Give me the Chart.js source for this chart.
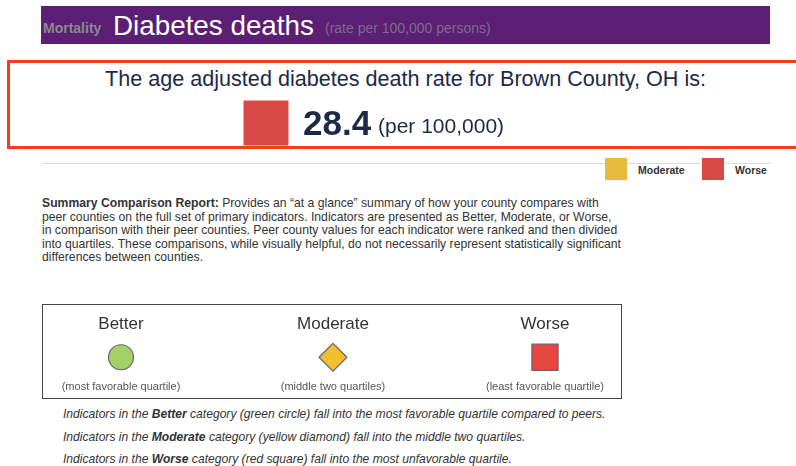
<!DOCTYPE html>
<html>
<head>
<meta charset="utf-8">
<script src="https://cdn.jsdelivr.net/npm/chart.js@4/dist/chart.umd.min.js"></script>
<style>
  body { margin:0; width:796px; height:466px; background:#fff; font-family:"Liberation Sans", Arial, sans-serif; position:relative; overflow:hidden; }
  .abs { position:absolute; }
  #header { left:41px; top:6px; width:729px; height:38px; background:#5c1f75; white-space:nowrap; }
  #header .k { color:#8a8a8a; font-size:14px; font-weight:bold; position:absolute; left:2px; top:14px; }
  #header .t { color:#fff; font-size:27.8px; position:absolute; left:72px; top:4px; }
  #header .s { color:#7f6d8c; font-size:14px; position:absolute; left:284px; top:14px; }
  #rateBox { left:7px; top:60px; width:800px; height:83px; border:3px solid #ef3f1f; border-right:none; }
  #rateTitle { left:0; width:811px; top:66px; text-align:center; font-size:21.6px; color:#1c2a48; white-space:nowrap; }
  #rateVal { left:303px; top:103px; font-size:35px; font-weight:bold; color:#1c2a48; }
  #rateUnit { left:378px; top:114px; font-size:21px; color:#1c2a48; }
  #rule { left:42px; top:163px; width:728px; height:1px; background:#dcdcdc; }
  .lgBox { width:22px; height:22px; top:158px; }
  .lgTxt { top:164px; font-size:10.5px; font-weight:bold; color:#333; }
  #summary { left:42px; top:197px; font-size:12.2px; line-height:13.6px; color:#333; white-space:nowrap; }
  #cmpBox { left:42px; top:304px; width:578px; height:93px; border:1px solid #444; }
  .note { left:63px; font-size:12.1px; font-style:italic; color:#333; white-space:nowrap; }
  canvas { pointer-events:none; }
</style>
</head>
<body>
<div id="header" class="abs"><span class="k">Mortality</span><span class="t">Diabetes deaths</span><span class="s">(rate per 100,000 persons)</span></div>

<div id="rateBox" class="abs"></div>
<div id="rateTitle" class="abs">The age adjusted diabetes death rate for Brown County, OH is:</div>
<div class="abs" style="left:226px;top:83px;width:80px;height:80px;"><canvas id="rateChart"></canvas></div>
<div id="rateVal" class="abs"></div>
<div id="rateUnit" class="abs">(per 100,000)</div>

<div id="rule" class="abs"></div>
<div id="legend"></div>

<div id="summary" class="abs"><b>Summary Comparison Report:</b> Provides an “at a glance” summary of how your county compares with<br>peer counties on the full set of primary indicators. Indicators are presented as Better, Moderate, or Worse,<br>in comparison with their peer counties. Peer county values for each indicator were ranked and then divided<br>into quartiles. These comparisons, while visually helpful, do not necessarily represent statistically significant<br>differences between counties.</div>

<div id="cmpBox" class="abs"></div>
<div class="abs" style="left:15px;top:305px;width:636px;height:92px;"><canvas id="cmpChart"></canvas></div>

<div class="abs note" style="top:407px;">Indicators in the <b>Better</b> category (green circle) fall into the most favorable quartile compared to peers.</div>
<div class="abs note" style="top:430px;">Indicators in the <b>Moderate</b> category (yellow diamond) fall into the middle two quartiles.</div>
<div class="abs note" style="top:452px;">Indicators in the <b>Worse</b> category (red square) fall into the most unfavorable quartile.</div>

<script>
// data
var categories = ['Better', 'Moderate', 'Worse'];
var quartileNotes = ['(most favorable quartile)', '(middle two quartiles)', '(least favorable quartile)'];
var symbolStyles = ['circle', 'rectRot', 'rect'];
var symbolColors = ['#a3d165', '#f0c02e', '#e8473f'];
var symbolSizes = [12.5, 14, 18.5];
var legendCats = ['Moderate', 'Worse'];
var legendColors = ['#e6bb3b', '#d94a44'];
var legendLeft = [605, 702];
var countyRate = 28.4;
var countyCategory = 'Worse';
var countyColor = '#d94a44';

Chart.defaults.font.family = '"Liberation Sans", Arial, sans-serif';
Chart.defaults.animation = false;

document.getElementById('rateVal').textContent = countyRate;

// little legend top right
var lg = document.getElementById('legend');
for (var i = 0; i < legendCats.length; i++) {
	var b = document.createElement('div');
	b.className = 'abs lgBox';
	b.style.left = legendLeft[i] + 'px';
	b.style.background = legendColors[i];
	lg.appendChild(b);
	var t = document.createElement('div');
	t.className = 'abs lgTxt';
	t.style.left = (legendLeft[i] + 33) + 'px';
	t.textContent = legendCats[i];
	lg.appendChild(t);
}

// big square for county value
var rateChart = new Chart(document.getElementById('rateChart'), {
	type : 'scatter',
	data : {
		datasets : [ {
			data : [ { x : 0, y : countyRate } ],
			label : countyCategory,
			pointStyle : 'rect',
			pointRadius : 31.8,
			backgroundColor : countyColor,
			borderWidth : 0,
			clip : false
		} ]
	},
	options : {
		responsive : true,
		maintainAspectRatio : false,
		plugins : { legend : { display : false }, tooltip : { enabled : false } },
		layout : { padding : 0, autoPadding : false },
		scales : {
			x : { display : false, min : -1, max : 1 },
			y : { display : false, min : countyRate - 1, max : countyRate + 1 }
		}
	}
});

// comparison key
var cmpChart = new Chart(document.getElementById('cmpChart'), {
	type : 'scatter',
	data : {
		datasets : [ {
			data : categories.map(function(c) { return { x : c, y : 1 }; }),
			pointStyle : symbolStyles,
			pointRadius : symbolSizes,
			backgroundColor : symbolColors,
			borderColor : '#6a6478',
			borderWidth : 1.2,
			clip : false
		} ]
	},
	options : {
		responsive : true,
		maintainAspectRatio : false,
		plugins : { legend : { display : false }, tooltip : { enabled : false } },
		layout : { autoPadding : false, padding : { top : 5, bottom : 1, left : 0, right : 0 } },
		scales : {
			x : {
				type : 'category',
				labels : categories,
				position : 'top',
				offset : true,
				grid : { display : false },
				border : { display : false },
				ticks : { color : '#333', font : { size : 17 }, padding : 4 }
			},
			x2 : {
				type : 'category',
				labels : quartileNotes,
				position : 'bottom',
				offset : true,
				grid : { display : false },
				border : { display : false },
				ticks : { color : '#555', font : { size : 11 }, padding : 2 }
			},
			y : { display : false, min : 0, max : 1.8 }
		}
	}
});
</script>
</body>
</html>
